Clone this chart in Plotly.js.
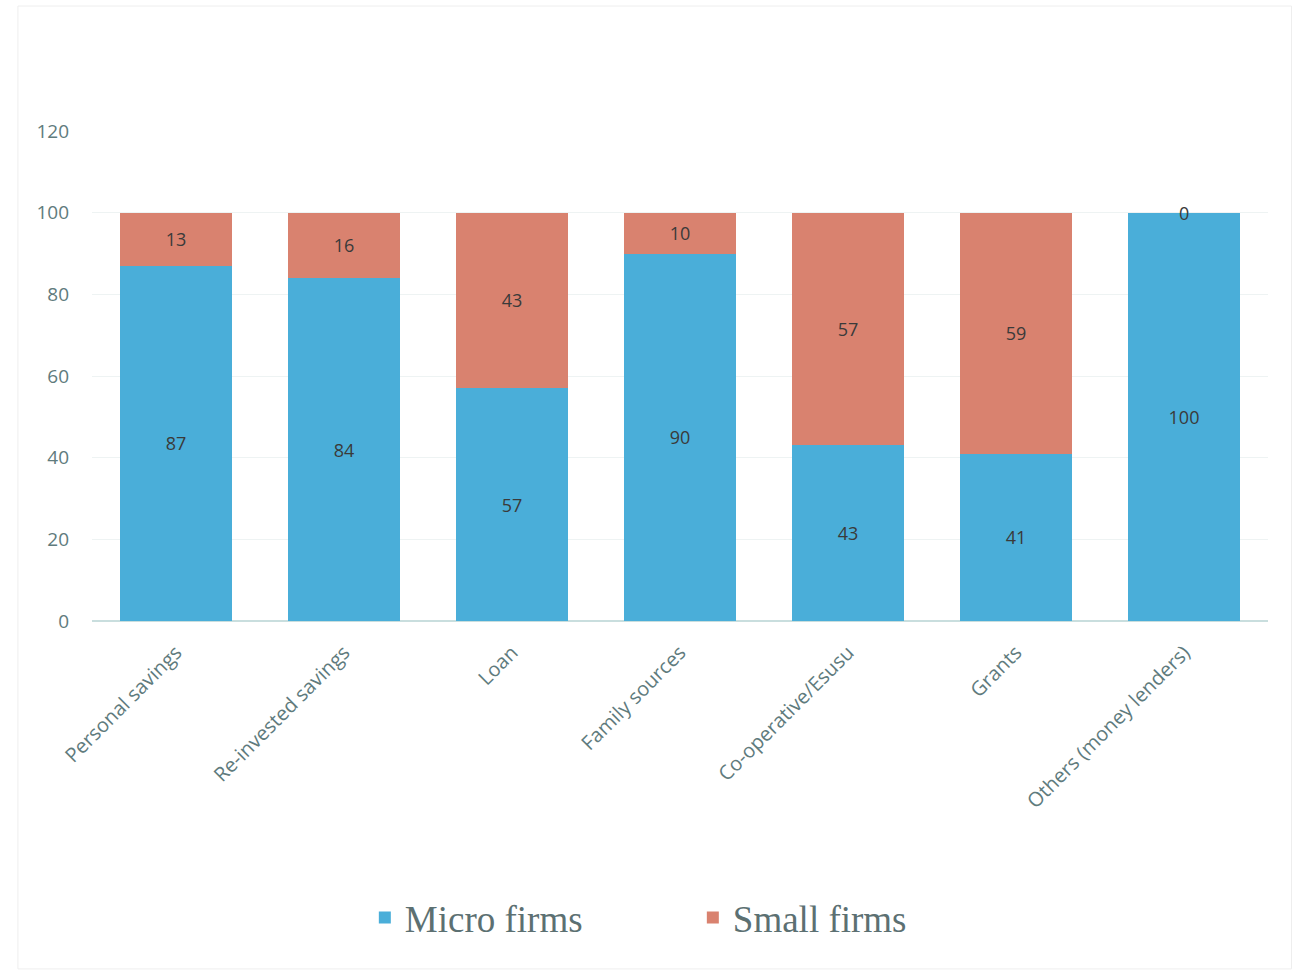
<!DOCTYPE html>
<html>
<head>
<meta charset="utf-8">
<script src="https://cdn.plot.ly/plotly-3.0.1.min.js"></script>
<style>html,body{margin:0;padding:0;background:#fff;}#chart{width:1303px;height:970px;}</style>
</head>
<body>
<div id="chart"></div>
<script>
const categories = ["Personal savings", "Re-invested savings", "Loan", "Family sources", "Co-operative/Esusu", "Grants", "Others (money lenders)"];
const microFirms = [87, 84, 57, 90, 43, 41, 100];
const smallFirms = [13, 16, 43, 10, 57, 59, 0];
const yTicks = [0, 20, 40, 60, 80, 100, 120];

const blue = '#4AAED9';
const red = '#D9826F';
const labelFont = {family: 'Open Sans, Liberation Sans, sans-serif', size: 18, color: '#3a3a3a'};

const traces = [
  {
    type: 'bar', name: 'Micro firms', x: categories, y: microFirms,
    marker: {color: blue},
    text: microFirms.map(String), textposition: 'inside', insidetextanchor: 'middle',
    textfont: labelFont, textangle: 0, hoverinfo: 'x+y'
  },
  {
    type: 'bar', name: 'Small firms', x: categories, y: smallFirms,
    marker: {color: red},
    text: smallFirms.map(v => v > 0 ? String(v) : ''), textposition: 'inside', insidetextanchor: 'middle',
    textfont: labelFont, textangle: 0, hoverinfo: 'x+y'
  }
];

const annotations = [];
categories.forEach((c, i) => {
  if (smallFirms[i] === 0) {
    annotations.push({x: c, y: microFirms[i] + smallFirms[i], xref: 'x', yref: 'y', text: String(smallFirms[i]),
      showarrow: false, font: labelFont, yanchor: 'middle'});
  }
});

const layout = {
  width: 1303, height: 970,
  margin: {l: 92, r: 35, t: 131, b: 349},
  paper_bgcolor: '#ffffff', plot_bgcolor: '#ffffff',
  barmode: 'stack', bargap: 0.333,
  showlegend: true,
  legend: {
    orientation: 'h', x: 0.232, xanchor: 'left', y: -0.606, yanchor: 'middle',
    font: {family: 'Liberation Serif, DejaVu Serif, serif', size: 37, color: '#5c7072'},
    entrywidth: 283, entrywidthmode: 'pixels', traceorder: 'normal', itemwidth: 30
  },
  xaxis: {
    tickangle: -45, showgrid: false, zeroline: false, showline: false, ticks: '',
    ticklabelstandoff: 15,
    tickfont: {family: 'Open Sans, Liberation Sans, sans-serif', size: 20, color: '#5f7b7d'}
  },
  yaxis: {
    range: [0, 120], tickvals: yTicks, ticktext: yTicks.map(String),
    showgrid: true, gridcolor: '#eef3f3', gridwidth: 1,
    zeroline: true, zerolinecolor: '#c9dede', zerolinewidth: 1.5,
    showline: false, ticks: '', ticklen: 0, ticklabelstandoff: 22,
    tickfont: {family: 'Open Sans, Liberation Sans, sans-serif', size: 19, color: '#5f7b7d'}
  },
  annotations: annotations,
  shapes: [{type: 'rect', xref: 'paper', yref: 'paper', x0: -0.063, x1: 1.02, y0: -0.71, y1: 1.255,
    line: {color: '#eeeeee', width: 1}, fillcolor: 'rgba(0,0,0,0)'}]
};

Plotly.newPlot('chart', traces, layout, {displayModeBar: false, staticPlot: true});
</script>
</body>
</html>
